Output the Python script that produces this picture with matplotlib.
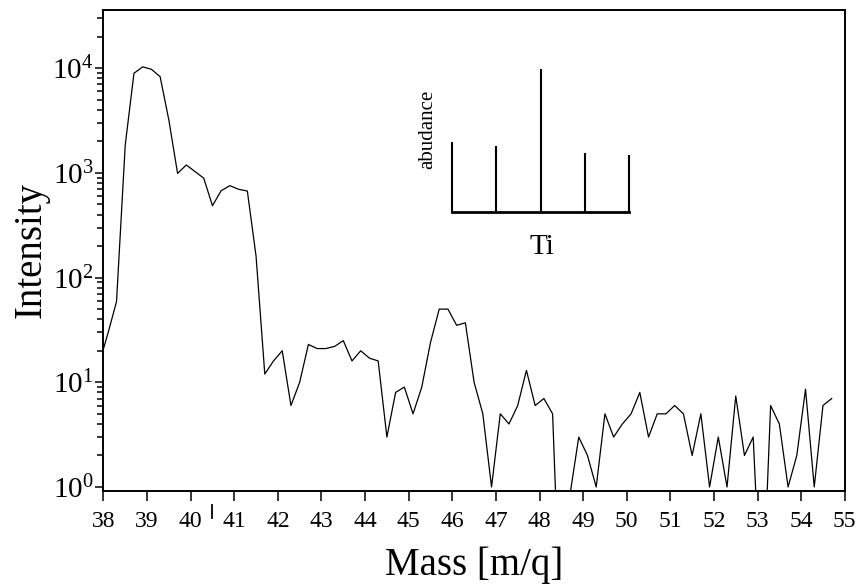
import numpy as np
import matplotlib
matplotlib.use("Agg")
import matplotlib.pyplot as plt
from matplotlib.ticker import LogLocator, FixedLocator, NullFormatter

plt.rcParams['font.family'] = ['Liberation Serif', 'DejaVu Serif']
plt.rcParams['mathtext.fontset'] = 'stix'

# mass scan, sampled every 0.2 m/q starting at 37.9
mass = np.round(np.arange(37.9, 54.75, 0.2), 1)
intensity = [15, 29, 59, 1850, 8940, 10300, 9760, 8300, 3200, 990,
             1190, 1030, 890, 486, 676, 755, 697, 671, 160, 12,
             16, 20, 6, 10, 23, 21, 21, 22, 25, 16,
             20, 17, 16, 3, 8, 9, 5, 9, 24, 50,
             50, 35, 37, 10, 5, 1, 5, 4, 6, 13,
             6, 7, 5, 0.03, 0.85, 3, 2, 1, 5, 3,
             4, 5, 8, 3, 5, 5, 6, 5, 2, 5,
             1, 3, 1, 7.4, 2, 3, 0.05, 6, 4, 1,
             2, 8.6, 1, 6, 7]

# Ti isotope pattern for the inset
ti_mass = [46, 47, 48, 49, 50]
ti_abundance = [0.49, 0.46, 1.0, 0.41, 0.40]

fig = plt.figure(figsize=(8.62, 5.85), dpi=100)
ax = fig.add_axes([0.120, 0.1607, 0.860, 0.8223])

ax.plot(mass, intensity, color='black', linewidth=0.9)
ax.set_yscale('log')
ax.set_xlim(38, 55)
ax.set_ylim(0.916, 36000)

ax.xaxis.set_major_locator(FixedLocator(range(38, 56)))
ax.yaxis.set_major_locator(LogLocator(base=10, numticks=10))
ax.yaxis.set_minor_locator(LogLocator(base=10, subs=np.arange(2, 10), numticks=20))
ax.yaxis.set_minor_formatter(NullFormatter())

for s in ax.spines.values():
    s.set_linewidth(1.4)
ax.tick_params(axis='x', which='major', direction='out', length=7.5, width=1.1,
               labelsize=17, pad=7, top=False)
ax.tick_params(axis='y', which='major', direction='out', length=6, width=1.1,
               labelsize=21, pad=1, right=False)
ax.tick_params(axis='y', which='minor', direction='out', length=4.5, width=1.1, right=False)

ax.set_xlabel('Mass [m/q]', fontsize=28, labelpad=10)
ax.set_ylabel('Intensity', fontsize=28, labelpad=2)

# small stray mark under the axis between 40 and 41
ax.plot([40.5, 40.5], [-0.029, -0.056], color='black', linewidth=1.3,
        transform=ax.get_xaxis_transform(), clip_on=False)

# inset: Ti isotope sticks
ins = fig.add_axes([0.5244, 0.6376, 0.2053, 0.2444])
ins.vlines(ti_mass, 0, ti_abundance, color='black', linewidth=1.5, clip_on=False)
ins.set_xlim(46, 50)
ins.set_ylim(0, 1.0)
ins.patch.set_visible(False)
for side in ['top', 'right', 'left']:
    ins.spines[side].set_visible(False)
ins.spines['bottom'].set_linewidth(2)
ins.set_xticks([])
ins.set_yticks([])
fig.text(428 / 862, 1 - 129 / 585, 'abudance', rotation=90, fontsize=15,
         ha='center', va='center')
fig.text(542 / 862, 1 - 247 / 585, 'Ti', fontsize=21, ha='center', va='center')

fig.savefig('out.png', dpi=100)
